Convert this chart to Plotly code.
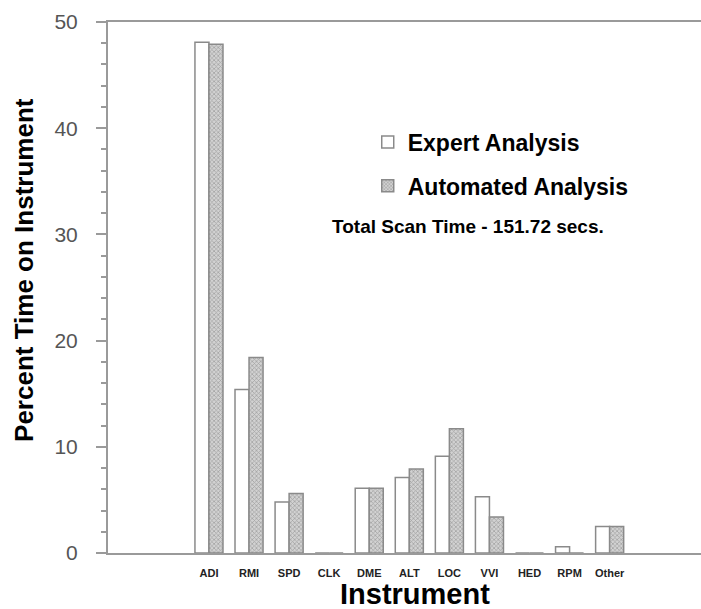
import plotly.graph_objects as go

instruments = ["ADI", "RMI", "SPD", "CLK", "DME", "ALT", "LOC", "VVI", "HED", "RPM", "Other"]
expert = [48.1, 15.4, 4.8, 0, 6.1, 7.1, 9.1, 5.3, 0, 0.6, 2.5]
automated = [47.9, 18.4, 5.6, 0, 6.1, 7.9, 11.7, 3.4, 0, 0, 2.5]
y_ticks = [0, 10, 20, 30, 40, 50]

FONT = "Liberation Sans, Arial, sans-serif"
AXC = "#9a9a9a"

fig = go.Figure()
fig.add_trace(go.Bar(
    x=instruments, y=expert, name="Expert Analysis",
    marker=dict(color="white", line=dict(color="#8a8a8a", width=1.5)),
    legendgroup="a",
))
fig.add_trace(go.Bar(
    x=instruments, y=automated, name="Automated Analysis",
    marker=dict(color="#d2d2d2", line=dict(color="#8a8a8a", width=1.5),
                pattern=dict(shape="x", fgcolor="#6a6a6a", size=3, solidity=0.4)),
    legendgroup="b",
))

fig.update_layout(
    width=701, height=609,
    margin=dict(l=108, r=0, t=22, b=56, autoexpand=False),
    paper_bgcolor="white", plot_bgcolor="white",
    barmode="group", bargap=0.3, bargroupgap=0,
    font=dict(family=FONT, color="black"),
    legend=dict(x=0.438, y=0.8145, xanchor="left", yanchor="top",
                font=dict(size=23, family=FONT, weight="bold"),
                tracegroupgap=11, traceorder="grouped",
                bgcolor="rgba(0,0,0,0)"),
    xaxis=dict(
        type="category", range=[-2.52, 12.28], automargin=False,
        showline=True, linecolor=AXC, linewidth=2, mirror=True,
        ticks="", showgrid=False, zeroline=False,
        tickfont=dict(size=11, family=FONT, weight="bold", color="#222"),
        ticklabelstandoff=9,
    ),
    yaxis=dict(
        range=[0, 50], tickvals=y_ticks, automargin=False,
        showline=True, linecolor=AXC, linewidth=2,
        ticks="outside", ticklen=10, tickwidth=1.5, tickcolor=AXC,
        minor=dict(dtick=2, ticks="outside", ticklen=5, tickwidth=1.5, tickcolor=AXC),
        showgrid=False, zeroline=False,
        tickfont=dict(size=21, family=FONT, color="#555"),
        ticklabelstandoff=14,
    ),
    annotations=[
        dict(text="Total Scan Time - 151.72 secs.", xref="paper", yref="paper",
             x=0.374, y=0.614, xanchor="left", yanchor="middle", showarrow=False,
             font=dict(size=19, family=FONT, weight="bold", color="black")),
        dict(text="Percent Time on Instrument", xref="paper", yref="paper",
             x=-0.1417, y=0.533, xanchor="center", yanchor="middle", showarrow=False,
             textangle=-90, font=dict(size=26, family=FONT, weight="bold", color="black")),
        dict(text="Instrument", xref="paper", yref="paper",
             x=0.518, y=-0.077, xanchor="center", yanchor="middle", showarrow=False,
             font=dict(size=29, family=FONT, weight="bold", color="black")),
    ],
)

fig.write_html(
    "out.html",
    config={"displayModeBar": False},
    post_script="document.body.style.margin='0';document.body.style.overflow='hidden';",
)
